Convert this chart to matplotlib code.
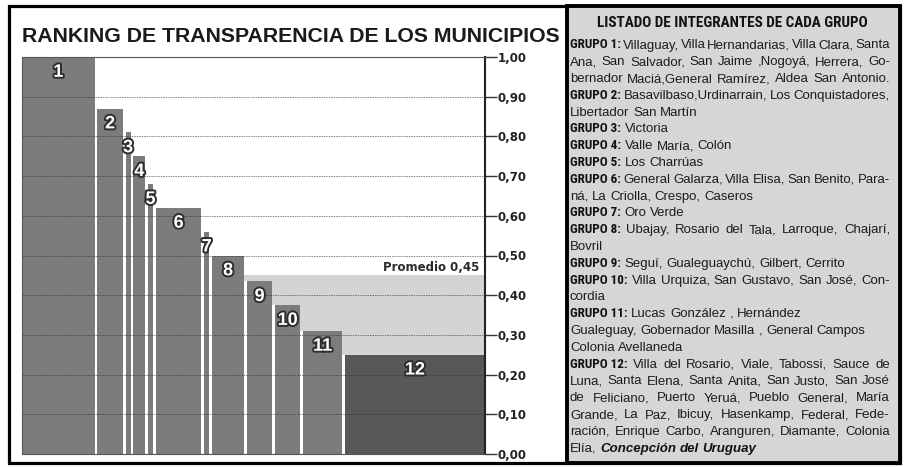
import re
import numpy as np
import matplotlib
matplotlib.use('Agg')
import matplotlib.pyplot as plt
import matplotlib.patheffects as pe
from matplotlib.patches import Rectangle
from matplotlib import font_manager
from matplotlib.font_manager import FontProperties

# --- data -------------------------------------------------------------
grupos = ['1', '2', '3', '4', '5', '6', '7', '8', '9', '10', '11', '12']
valores = [1.00, 0.87, 0.81, 0.75, 0.68, 0.62, 0.56, 0.50, 0.435, 0.375, 0.31, 0.25]
conteo = [11, 4, 1, 2, 1, 7, 1, 5, 4, 4, 6, 21]   # municipios por grupo (ancho de barra)
promedio = 0.45
marcas = np.round(np.arange(0, 1.01, 0.1), 2)
etiquetas_y = ['%.2f' % t for t in marcas]
etiquetas_y = [e.replace('.', ',') for e in etiquetas_y]

titulo = 'RANKING DE TRANSPARENCIA DE LOS MUNICIPIOS'
titulo_lista = 'LISTADO DE INTEGRANTES DE CADA GRUPO'

lineas = [
    'GRUPO 1: Villaguay, Villa Hernandarias, Villa Clara, Santa',
    'Ana, San Salvador, San Jaime ,Nogoyá, Herrera, Go-',
    'bernador Maciá,General Ramírez, Aldea San Antonio.',
    'GRUPO 2: Basavilbaso,Urdinarrain, Los Conquistadores,',
    'Libertador San Martín',
    'GRUPO 3: Victoria',
    'GRUPO 4: Valle María, Colón',
    'GRUPO 5: Los Charrúas',
    'GRUPO 6: General Galarza, Villa Elisa, San Benito, Para-',
    'ná, La Criolla, Crespo, Caseros',
    'GRUPO 7: Oro Verde',
    'GRUPO 8: Ubajay, Rosario del Tala, Larroque, Chajarí,',
    'Bovril',
    'GRUPO 9: Seguí, Gualeguaychú, Gilbert, Cerrito',
    'GRUPO 10: Villa Urquiza, San Gustavo, San José, Con-',
    'cordia',
    'GRUPO 11:Lucas González , Hernández',
    'Gualeguay, Gobernador Masilla , General Campos',
    'Colonia Avellaneda',
    'GRUPO 12: Villa del Rosario, Viale, Tabossi, Sauce de',
    'Luna, Santa Elena, Santa Anita, San Justo, San José',
    'de Feliciano, Puerto Yeruá, Pueblo General, María',
    'Grande, La Paz, Ibicuy, Hasenkamp, Federal, Fede-',
    'ración, Enrique Carbo, Aranguren, Diamante, Colonia',
    'Elía, *Concepción del Uruguay*',
]
justificar = [1, 1, 1, 1, 0, 0, 0, 0, 1, 0, 0, 1, 0, 0, 1, 0,
              0, 0, 0, 1, 1, 1, 1, 1, 0]

# --- figure -------------------------------------------------------------
W, H = 912, 467
fig = plt.figure(figsize=(W / 100, H / 100), dpi=100)
fig.patch.set_facecolor('white')
renderer = fig.canvas.get_renderer()

ARIAL = ['Liberation Sans', 'DejaVu Sans']


def fuente_condensada():
    # look for any installed condensed / narrow bold face
    candidatos = [('Liberation Sans Narrow', 'normal'), ('Noto Sans Condensed', 'normal'),
                  ('Noto Sans', 'condensed'), ('Roboto Condensed', 'normal'),
                  ('Open Sans Condensed', 'normal'), ('Open Sans', 'condensed'),
                  ('DejaVu Sans', 'condensed'), ('Inter', 'condensed')]
    for fam, est in candidatos:
        try:
            ruta = font_manager.findfont(FontProperties(family=fam, weight='bold', stretch=est),
                                         fallback_to_default=False)
        except ValueError:
            continue
        nombre = ruta.lower()
        if 'condensed' in nombre or 'narrow' in nombre:
            return dict(fname=ruta)
    return dict(family=ARIAL, fontweight='bold')


kw_cond = fuente_condensada()


def fx(x):
    return x / W


def fy(y):
    return 1 - y / H


def medir(s, **kw):
    t = fig.text(0, 0, s, **kw)
    w = t.get_window_extent(renderer=renderer).width
    t.remove()
    return w


def props(**kw):
    # turn fname into a FontProperties so Text accepts it
    kw = dict(kw)
    if 'fname' in kw:
        size = kw.pop('fontsize', 10)
        kw['fontproperties'] = FontProperties(fname=kw.pop('fname'), size=size)
    return kw


# frames
fig.add_artist(Rectangle((fx(9), fy(463)), fx(891), 457 / H, transform=fig.transFigure,
                         facecolor='white', edgecolor='black', lw=2.3, zorder=0))
fig.add_artist(Rectangle((fx(567), fy(463)), fx(333), 457 / H, transform=fig.transFigure,
                         facecolor='#d5d6d8', edgecolor='black', lw=2.8, zorder=0))

# --- chart ----------------------------------------------------------------
ax = fig.add_axes([fx(22), 13 / H, 463 / W, 397 / H])
ax.set_facecolor('white')

recorte = 0.26   # each bar is a bit narrower than its count
paso = 0.16      # extra spacing added per bar
n = np.array(conteo, dtype=float)
idx = np.arange(len(conteo))
izq = np.concatenate([[0], np.cumsum(n[:-1])]) + paso * idx
anchos = n - recorte
centros = izq + anchos / 2
vals = np.array(valores)

ax.axhspan(0, promedio, color='#d3d4d6', lw=0, zorder=0)
colores = ['#7b7c7e'] * (len(grupos) - 1) + ['#58585a']
ax.bar(izq, vals, width=anchos, align='edge', color=colores, lw=0, zorder=1)
# white separations between bars
ax.bar(izq[:-1] + anchos[:-1], np.minimum(vals[:-1], vals[1:]), width=izq[1:] - izq[:-1] - anchos[:-1],
       align='edge', color='white', lw=0, zorder=1)

for t in marcas[1:-1]:
    ax.axhline(t, color='#333333', lw=0.7, ls=(0, (1.5, 1)), alpha=0.6, zorder=2)

for g, c, v in zip(grupos, centros, vals):
    ax.annotate(g, xy=(c, v), xytext=(0, -11), textcoords='offset points',
                ha='center', va='center', color='white', fontsize=13, fontweight='bold',
                family=ARIAL, zorder=4,
                path_effects=[pe.withStroke(linewidth=2.8, foreground='#2e2e2e')])

ax.text(0.987, promedio + 0.004, 'Promedio 0,45', transform=ax.get_yaxis_transform(),
        ha='right', va='bottom', fontsize=8.5, fontweight='bold', color='#2a2a2a', zorder=3)

ax.set_xlim(0, izq[-1] + anchos[-1])
ax.set_ylim(0, 1)
ax.set_xticks([])
ax.yaxis.tick_right()
ax.set_yticks(marcas)
ax.set_yticklabels(etiquetas_y)
ax.tick_params(axis='y', length=8.6, width=1, color='#333333', pad=0.5,
               labelsize=8.5, labelcolor='#222222')
for lbl in ax.get_yticklabels():
    lbl.set_fontweight('bold')
for s in ['left', 'top', 'bottom']:
    ax.spines[s].set_color('#555555')
    ax.spines[s].set_linewidth(0.8)
ax.spines['right'].set_color('#222222')
ax.spines['right'].set_linewidth(1.5)

# left title, fitted to width
base = 12
kw_t = dict(family=ARIAL, fontweight='bold')
tam = base * 538 / medir(titulo, fontsize=base, **kw_t)
fig.text(fx(22), fy(42), titulo, fontsize=tam, color='#1a1a1a',
         va='baseline', ha='left', **kw_t)

# --- list panel ---------------------------------------------------------------
tam = base * 270 / medir(titulo_lista, **props(fontsize=base, **kw_cond))
fig.text(fx(732), fy(27), titulo_lista, color='#111111', ha='center', va='baseline',
         **props(fontsize=tam, **kw_cond))

# heading "GRUPO n:" sized so that "GRUPO 1:" is about 51 px wide
tam_cab = base * 51 / medir('GRUPO 1:', **props(fontsize=base, **kw_cond))
kw_cab = props(fontsize=tam_cab, color='#111111', **kw_cond)
kw_txt = dict(family=ARIAL, fontsize=9.5, color='#1c1c1c')
kw_neg = dict(family=ARIAL, fontsize=9.5, color='#111111',
              fontweight='bold', fontstyle='italic')
espacio = medir('a a', **kw_txt) - medir('aa', **kw_txt)

x0, x1 = 570, 890
y0, dy = 48.5, 16.8
for i, (linea, just) in enumerate(zip(lineas, justificar)):
    fichas = []
    m = re.match(r'^(GRUPO \d+:)\s*(.*)$', linea)
    resto = linea
    if m:
        fichas.append((m.group(1), kw_cab))
        resto = m.group(2)
    negrita = False
    for palabra in resto.split():
        if palabra.startswith('*'):
            negrita = True
        limpio = palabra.strip('*')
        fichas.append((limpio, kw_neg if negrita else kw_txt))
        if palabra.endswith('*'):
            negrita = False
    anchos_f = [medir(s, **k) for s, k in fichas]
    if just and len(fichas) > 1:
        sep = (x1 - x0 - sum(anchos_f)) / (len(fichas) - 1)
    else:
        sep = espacio
    x = x0
    for (s, k), w in zip(fichas, anchos_f):
        fig.text(fx(x), fy(y0 + dy * i), s, ha='left', va='baseline', **k)
        x += w + sep

fig.savefig('out.png', dpi=100, facecolor='white')
